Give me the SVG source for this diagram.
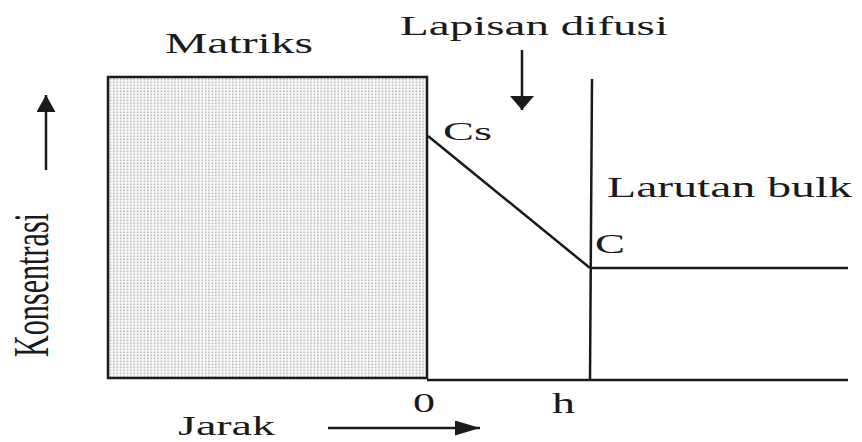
<svg xmlns="http://www.w3.org/2000/svg" width="862" height="442" viewBox="0 0 862 442">
<defs>
<style>
.t{font-family:"Liberation Serif","Times New Roman",serif;fill:#1a1a1a}
.ln{stroke:#1a1a1a;fill:none;stroke-width:2.5}
</style>
<pattern id="dots" width="3.4" height="3" patternUnits="userSpaceOnUse">
<rect width="3.4" height="3" fill="#f7f7f7"/>
<rect x="0.9" y="0.6" width="1.4" height="1.6" fill="#b4b4b4"/>
</pattern>
<marker id="ahdown" viewBox="0 0 10 10" refX="10" refY="5" markerUnits="userSpaceOnUse" markerWidth="14" markerHeight="24" orient="auto" preserveAspectRatio="none">
<path d="M0,0 L10,5 L0,10 Z" fill="#1a1a1a"/>
</marker>
<marker id="ahup" viewBox="0 0 10 10" refX="10" refY="5" markerUnits="userSpaceOnUse" markerWidth="17" markerHeight="19" orient="auto" preserveAspectRatio="none">
<path d="M0,0 L10,5 L0,10 Z" fill="#1a1a1a"/>
</marker>
<marker id="ahright" viewBox="0 0 10 10" refX="10" refY="5" markerUnits="userSpaceOnUse" markerWidth="25" markerHeight="15" orient="auto" preserveAspectRatio="none">
<path d="M0,0 L10,5 L0,10 Z" fill="#1a1a1a"/>
</marker>
</defs>
<rect width="862" height="442" fill="#ffffff"/>
<g id="matriks">
<rect x="108" y="77" width="319" height="301" fill="url(#dots)" stroke="#1a1a1a" stroke-width="2.5"/>
<text class="t" x="165" y="53" font-size="30" textLength="148" lengthAdjust="spacingAndGlyphs">Matriks</text>
</g>
<g id="connectors">
<line class="ln" x1="427" y1="380" x2="848" y2="380" stroke-width="3.5"/>
<line class="ln" x1="592" y1="79" x2="590" y2="380"/>
<line class="ln" x1="428" y1="136" x2="590" y2="268"/>
<line class="ln" x1="590" y1="268" x2="848" y2="268"/>
<line class="ln" x1="522" y1="50" x2="522" y2="110" marker-end="url(#ahdown)"/>
<line class="ln" x1="46" y1="170" x2="46" y2="95" marker-end="url(#ahup)"/>
<line class="ln" x1="328" y1="428" x2="480" y2="428" marker-end="url(#ahright)"/>
</g>
<g id="labels">
<text class="t" x="400" y="35" font-size="28" textLength="268" lengthAdjust="spacingAndGlyphs">Lapisan difusi</text>
<text class="t" x="443" y="140" font-size="26" textLength="49" lengthAdjust="spacingAndGlyphs">Cs</text>
<text class="t" x="607" y="197" font-size="30" textLength="245" lengthAdjust="spacingAndGlyphs">Larutan bulk</text>
<text class="t" x="595" y="253" font-size="27" textLength="30" lengthAdjust="spacingAndGlyphs">C</text>
<text class="t" x="413" y="412" font-size="28" textLength="22" lengthAdjust="spacingAndGlyphs">0</text>
<text class="t" x="552" y="413" font-size="30" textLength="23" lengthAdjust="spacingAndGlyphs">h</text>
<text class="t" x="178" y="435" font-size="27" textLength="97" lengthAdjust="spacingAndGlyphs">Jarak</text>
<text class="t" transform="translate(48,357) rotate(-90)" x="0" y="0" font-size="50" textLength="144" lengthAdjust="spacingAndGlyphs">Konsentrasi</text>
</g>
</svg>
